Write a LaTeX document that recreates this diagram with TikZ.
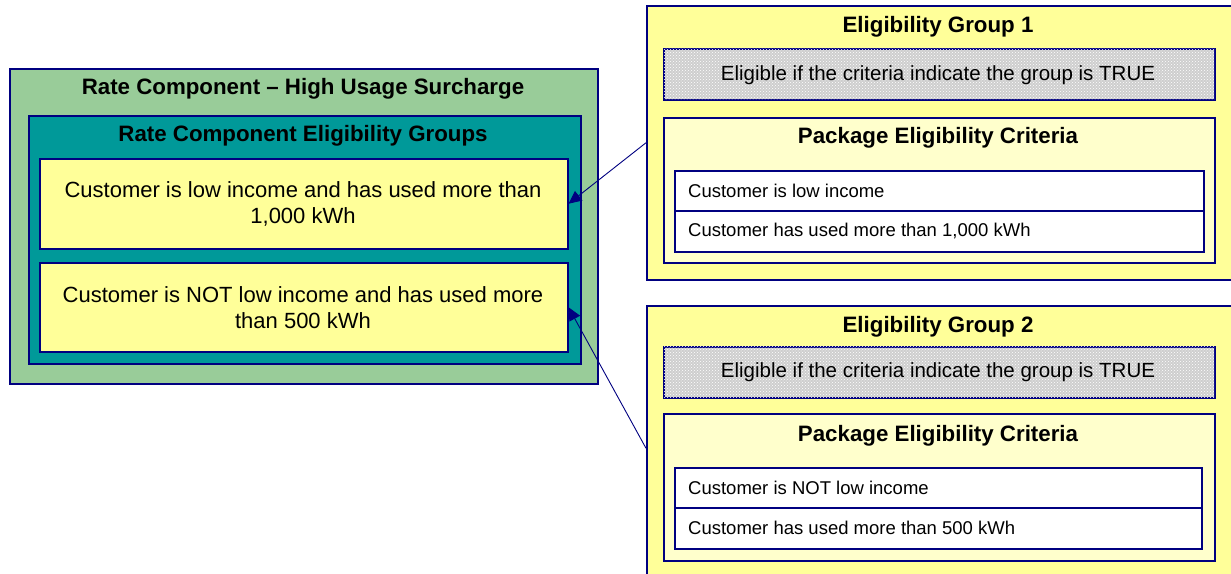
\documentclass[tikz,border=0pt]{standalone}
\usepackage{fontspec}
\setmainfont{Liberation Sans}
\usetikzlibrary{arrows.meta,patterns}
\definecolor{navy}{RGB}{0,0,128}
\definecolor{lgreen}{RGB}{153,204,153}
\definecolor{tealbox}{RGB}{0,153,153}
\definecolor{yel}{RGB}{255,255,153}
\definecolor{lyel}{RGB}{255,255,204}
\definecolor{stip}{RGB}{206,206,206}
\begin{document}
\begin{tikzpicture}[x=1pt,y=-1pt,
  box/.style={draw=navy,line width=1.5pt,rectangle,inner sep=0pt,anchor=north west},
  ttl/.style={inner sep=0pt,font=\fontsize{22.3}{26}\selectfont\bfseries},
  body/.style={inner sep=0pt,align=center,font=\fontsize{22}{26}\selectfont},
  gtext/.style={inner sep=0pt,font=\fontsize{20.5}{24}\selectfont},
  rtext/.style={inner sep=0pt,anchor=west,font=\fontsize{18.5}{22}\selectfont},
  stipple/.style={fill=stip,postaction={pattern=crosshatch dots,pattern color=white}},
  arr/.style={draw=navy,line width=0.9pt,-{Triangle[length=13pt,width=12pt]}}]
\useasboundingbox (0,0) rectangle (1231,573);
\clip (0,0) rectangle (1231,573);
% left side
\node[box,fill=lgreen,minimum width=588pt,minimum height=315pt] (rc) at (9,68) {};
\node[ttl] (rct) at (303,89) {Rate Component – High Usage Surcharge};
\node[box,fill=tealbox,minimum width=552pt,minimum height=248pt] (eg) at (28,115) {};
\node[ttl] (egt) at (303,136) {Rate Component Eligibility Groups};
\node[box,fill=yel,minimum width=528pt,minimum height=90pt] (y1) at (39,158) {};
\node[body] (y1t) at (303,204) {Customer is low income and has used more than\\1,000 kWh};
\node[box,fill=yel,minimum width=528pt,minimum height=89pt] (y2) at (39,262) {};
\node[body] (y2t) at (303,308) {Customer is NOT low income and has used more\\than 500 kWh};
% group 1
\node[box,fill=yel,minimum width=587pt,minimum height=274pt] (g1) at (646,5) {};
\node[ttl] (g1t) at (938,27) {Eligibility Group 1};
\node[box,stipple,minimum width=551pt,minimum height=51pt] (s1) at (663,48) {};
\node[gtext] (s1t) at (938,75) {Eligible if the criteria indicate the group is TRUE};
\node[box,fill=lyel,minimum width=551pt,minimum height=145pt] (p1) at (663,117) {};
\node[ttl] (p1t) at (938,138) {Package Eligibility Criteria};
\node[box,fill=white,minimum width=529pt,minimum height=40pt] (r11) at (674,170) {};
\node[box,fill=white,minimum width=529pt,minimum height=41pt] (r12) at (674,210) {};
\node[rtext] (r11t) at (688,191) {Customer is low income};
\node[rtext] (r12t) at (688,231) {Customer has used more than 1,000 kWh};
% group 2
\node[box,fill=yel,minimum width=587pt,minimum height=285pt] (g2) at (646,305) {};
\node[ttl] (g2t) at (938,327) {Eligibility Group 2};
\node[box,stipple,minimum width=551pt,minimum height=51pt] (s2) at (663,346) {};
\node[gtext] (s2t) at (938,372) {Eligible if the criteria indicate the group is TRUE};
\node[box,fill=lyel,minimum width=551pt,minimum height=147pt] (p2) at (663,413) {};
\node[ttl] (p2t) at (938,436) {Package Eligibility Criteria};
\node[box,fill=white,minimum width=527pt,minimum height=40pt] (r21) at (674,467) {};
\node[box,fill=white,minimum width=527pt,minimum height=41pt] (r22) at (674,507) {};
\node[rtext] (r21t) at (688,488) {Customer is NOT low income};
\node[rtext] (r22t) at (688,528) {Customer has used more than 500 kWh};
% connectors
\draw[arr] (g1.west) -- (y1.east);
\draw[arr] (g2.west) -- (y2.east);
\end{tikzpicture}
\end{document}
